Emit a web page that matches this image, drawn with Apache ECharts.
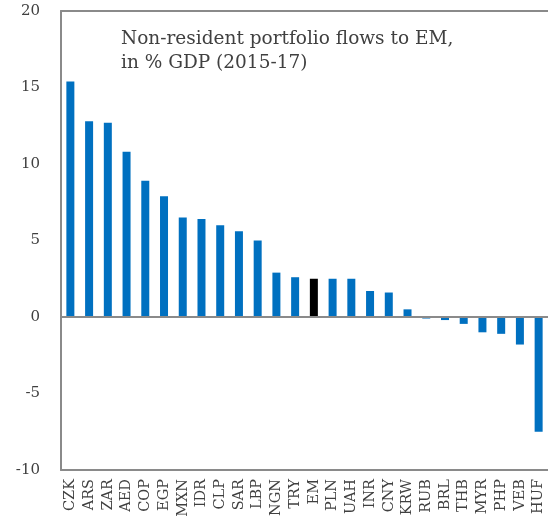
<!DOCTYPE html>
<html lang="en">
<head>
	<meta charset="UTF-8">
	<script src="https://cdn.jsdelivr.net/npm/echarts@6/dist/echarts.min.js"></script>
	<style>
		html, body { margin: 0; padding: 0; background: #fff; }
	</style>
</head>
<body>
<div id="flowsBar" style="width: 548px; height: 522px;"></div>
<script>
  var currencies = ['CZK','ARS','ZAR','AED','COP','EGP','MXN','IDR','CLP','SAR','LBP','NGN','TRY','EM',
    'PLN','UAH','INR','CNY','KRW','RUB','BRL','THB','MYR','PHP','VEB','HUF'];
  var flows = [15.4, 12.8, 12.7, 10.8, 8.9, 7.9, 6.5, 6.4, 6.0, 5.6, 5.0, 2.9, 2.6, 2.5,
    2.5, 2.5, 1.7, 1.6, 0.5, -0.1, -0.2, -0.45, -1.0, -1.1, -1.8, -7.5];
  var yTicks = [-10, -5, 0, 5, 10, 15, 20];
  var titleLines = ['Non-resident portfolio flows to EM,', 'in % GDP (2015-17)'];

  var serif = '"DejaVu Serif", Georgia, serif';
  var textGrey = '#404040';
  var lineGrey = '#8a8a8a';

  var chart = echarts.init(document.getElementById('flowsBar'));

  var barData = flows.map(function (v, i) {
    if (currencies[i] === 'EM') {
      return { value: v, itemStyle: { color: '#000000' } };
    }
    return v;
  });

  var frameLine = { show: true, onZero: false, lineStyle: { color: lineGrey, width: 2 } };

  var option = {
    animation: false,
    title: {
      text: titleLines.join('\n'),
      left: 116,
      top: 22,
      textStyle: {
        fontFamily: serif,
        fontSize: 18.5,
        fontWeight: 'normal',
        color: textGrey,
        lineHeight: 24
      }
    },
    grid: {
      left: 61,
      right: -4,
      top: 11,
      bottom: 52
    },
    xAxis: [
      {
        type: 'category',
        data: currencies,
        position: 'bottom',
        axisLine: frameLine,
        axisTick: { show: false },
        axisLabel: {
          interval: 0,
          rotate: 90,
          margin: 9,
          fontFamily: serif,
          fontSize: 14.5,
          color: textGrey
        }
      },
      {
        // top frame line only
        type: 'category',
        data: currencies,
        position: 'top',
        axisLine: frameLine,
        axisTick: { show: false },
        axisLabel: { show: false }
      }
    ],
    yAxis: {
      type: 'value',
      min: yTicks[0],
      max: yTicks[yTicks.length - 1],
      interval: 5,
      axisLine: frameLine,
      axisTick: { show: false },
      splitLine: { show: false },
      axisLabel: {
        margin: 21,
        fontFamily: serif,
        fontSize: 15,
        color: textGrey
      }
    },
    series: [
      {
        type: 'bar',
        data: barData,
        barWidth: 8,
        itemStyle: { color: '#0070C0' },
        markLine: {
          silent: true,
          symbol: 'none',
          label: { show: false },
          lineStyle: { color: lineGrey, width: 2, type: 'solid' },
          data: [{ yAxis: 0 }]
        }
      }
    ]
  };
  chart.setOption(option);
</script>
</body>
</html>
